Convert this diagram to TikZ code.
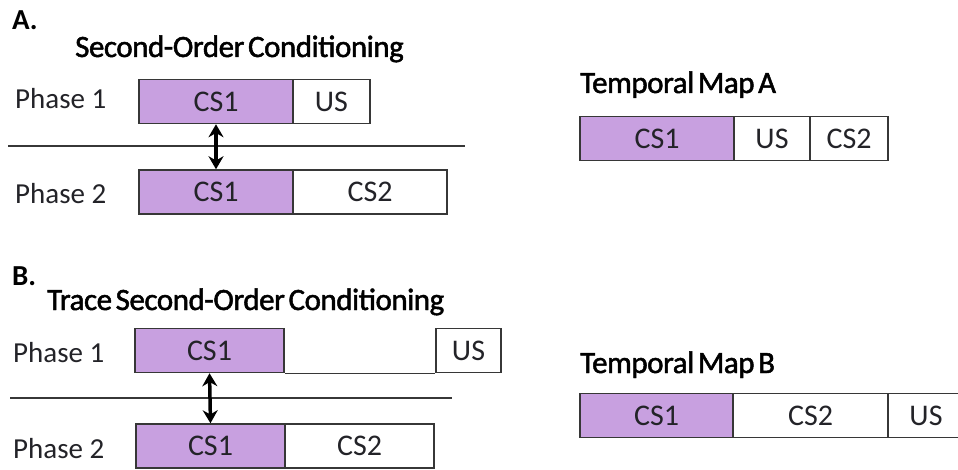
\documentclass[tikz,border=0pt]{standalone}
\usepackage{fontspec}
\setmainfont{Carlito}
\newfontfamily\headfont{Carlito}[FakeBold=1.6, LetterSpace=-1.5, WordSpace=0.55]
\usetikzlibrary{arrows.meta}
\definecolor{cspurple}{RGB}{200,160,224}
\definecolor{edge}{RGB}{55,55,55}
\definecolor{ink}{RGB}{35,35,40}
\tikzset{
  seg/.style={draw=edge, line width=1.5pt, minimum height=44pt, inner sep=0pt,
    text=ink, font=\fontsize{30}{30}\selectfont},
  cs/.style={seg, fill=cspurple},
  plain/.style={seg, fill=white},
  label/.style={anchor=base west, inner sep=0pt, text=ink},
  phase/.style={label, font=\fontsize{29}{29}\selectfont},
  heading/.style={label, text=black, font=\headfont\fontsize{31}{31}\selectfont},
  part/.style={label, font=\bfseries\fontsize{29}{29}\selectfont, text=black},
  divider/.style={draw=edge, line width=1.2pt},
  link/.style={line width=3.5pt, {Stealth[length=13pt,width=15pt]}-{Stealth[length=13pt,width=15pt]}}
}
\begin{document}
\begin{tikzpicture}[x=1pt,y=-1pt]
\useasboundingbox (0,0) rectangle (958,470);

% ---- Part A: second-order conditioning ----
\node[part] (labA) at (12,30) {A.};
\node[heading] (titleA) at (75,57) {Second-Order Conditioning};
\node[phase] (pA1) at (15,109) {Phase 1};
\node[phase] (pA2) at (15,204) {Phase 2};

\node[cs, minimum width=154pt] (a1cs1) at (216,101.5) {CS1};
\node[plain, minimum width=77pt] (a1us) at (331.5,101.5) {US};
\node[cs, minimum width=154pt] (a2cs1) at (216,192) {CS1};
\node[plain, minimum width=154pt] (a2cs2) at (370,192) {CS2};

\coordinate (sepAl) at (8,146);
\coordinate (sepAr) at (465,146);
\draw[divider] (sepAl) -- (sepAr);
\draw[link] (a1cs1.south) -- (a2cs1.north);

% ---- Temporal map A ----
\node[heading] (mapA) at (580,93) {Temporal Map A};
\node[cs, minimum width=154pt] (macs1) at (657,138.5) {CS1};
\node[plain, minimum width=76pt] (maus) at (772,138.5) {US};
\node[plain, minimum width=78pt] (macs2) at (849,138.5) {CS2};

% ---- Part B: trace second-order conditioning ----
\node[part] (labB) at (12,285) {B.};
\node[heading] (titleB) at (47,310) {Trace Second-Order Conditioning};
\node[phase] (pB1) at (13,362) {Phase 1};
\node[phase] (pB2) at (13,458) {Phase 2};

\node[cs, minimum width=149pt] (b1cs1) at (209.5,350.5) {CS1};
\node[plain, minimum width=65pt] (b1us) at (468.5,350.5) {US};
\draw[edge, line width=1.5pt] (b1cs1.south east) -- (b1us.south west);
\node[cs, minimum width=149pt] (b2cs1) at (210.5,446) {CS1};
\node[plain, minimum width=149pt] (b2cs2) at (359.5,446) {CS2};

\coordinate (sepBl) at (10,398);
\coordinate (sepBr) at (452,398);
\draw[divider] (sepBl) -- (sepBr);
\draw[link] (b1cs1.south) -- (b2cs1.north);

% ---- Temporal map B ----
\node[heading] (mapB) at (580,373) {Temporal Map B};
\node[cs, minimum width=153pt] (mbcs1) at (656.5,415.5) {CS1};
\node[plain, minimum width=155pt] (mbcs2) at (810.5,415.5) {CS2};
\node[plain, minimum width=76pt] (mbus) at (926,415.5) {US};
\end{tikzpicture}
\end{document}
